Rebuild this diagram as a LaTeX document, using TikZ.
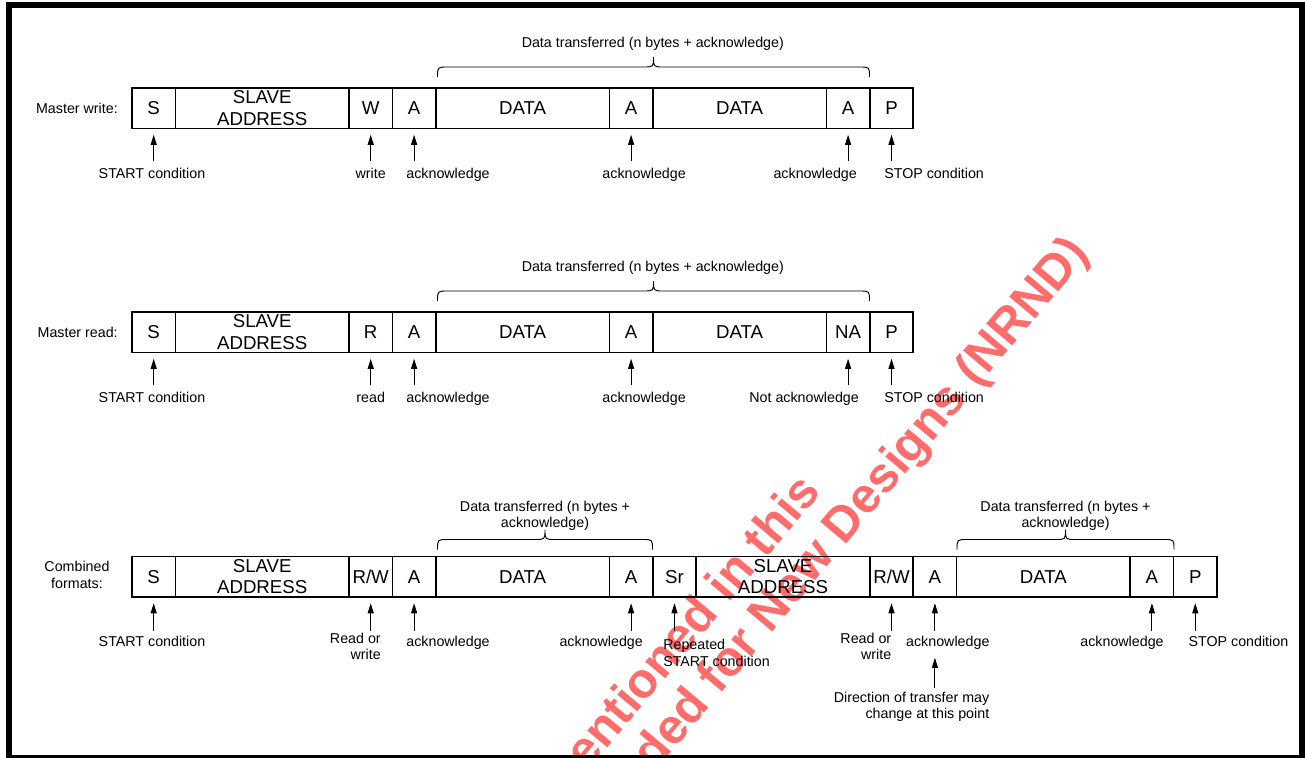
\documentclass[tikz,border=0pt]{standalone}
\usepackage{fontspec}
\setmainfont{Liberation Sans}
\usetikzlibrary{arrows.meta,calc}
\definecolor{wmred}{RGB}{255,108,108}
\newcommand{\ibrace}[3]{%
  \draw[brc] (#1,#3) .. controls (#1,{#3-10}) .. ({#1+10},{#3-10})
    -- ({(#1+#2)/2-10},{#3-10}) .. controls ({(#1+#2)/2},{#3-10}) .. ({(#1+#2)/2},{#3-20})
    .. controls ({(#1+#2)/2},{#3-10}) .. ({(#1+#2)/2+10},{#3-10})
    -- ({#2-10},{#3-10}) .. controls (#2,{#3-10}) .. (#2,#3);}
\begin{document}
\begin{tikzpicture}[x=0.75pt,y=-0.75pt,
  cell/.style={draw,line width=1.1pt,anchor=north west,outer sep=0pt,
    minimum width=32.55pt,minimum height=30.2pt,inner sep=0pt,
    font=\fontsize{14}{16}\selectfont,align=center},
  wide/.style={minimum width=130.2pt},
  lab/.style={inner sep=0pt,font=\fontsize{10.7}{12.3}\selectfont},
  arr/.style={-{Triangle[length=7.5pt,width=4.5pt]},line width=0.7pt},
  brc/.style={line width=0.7pt},
  wm/.style={text=wmred,font=\fontsize{37}{44}\selectfont\bfseries,inner sep=0pt,rotate=50}]
\useasboundingbox (0,0) rectangle (1305,757);
\fill[white] (0,0) rectangle (1305,757);
% watermark
\begin{scope}
  \clip (12,7) rectangle (1298,754);
  \node[wm,anchor=base east] (wm2) at (1090,254) {not recommended for New Designs (NRND)};
  \node[wm,anchor=base east] (wm1) at (822,492) {The products mentioned in this};
\end{scope}
% frame
\draw[line width=4.5pt] (9,4.5) rectangle (1301.5,757.5);

% ---------- Row 1: Master write ----------
\node[cell] (a1) at (132,88) {S};
\node[cell,wide] (a2) at (a1.north east) {SLAVE\\ADDRESS};
\node[cell] (a3) at (a2.north east) {W};
\node[cell] (a4) at (a3.north east) {A};
\node[cell,wide] (a5) at (a4.north east) {DATA};
\node[cell] (a6) at (a5.north east) {A};
\node[cell,wide] (a7) at (a6.north east) {DATA};
\node[cell] (a8) at (a7.north east) {A};
\node[cell] (a9) at (a8.north east) {P};
\node[lab,anchor=base east] (lw) at ($(a1.west)+(-14,5)$) {Master write:};
\node[lab,anchor=base] (ta) at ($(a5.north west)!0.5!(a9.north west)+(0,-40.5)$) {Data transferred (n bytes + acknowledge)};
\ibrace{437.5}{869.5}{77}
\foreach \c in {a1,a3,a4,a6,a8,a9}{\draw[arr] ($(\c.south)+(0,33)$) -- ($(\c.south)+(0,6.5)$);}
\node[lab,anchor=base] (la1) at ($(a1.south)+(-1.7,50)$) {START condition};
\node[lab,anchor=base] (la3) at ($(a3.south)+(0,50)$) {write};
\node[lab,anchor=base west] (la4) at ($(a4.south)+(-8,50)$) {acknowledge};
\node[lab,anchor=base] (la6) at ($(a6.south)+(13,50)$) {acknowledge};
\node[lab,anchor=base east] (la8) at ($(a8.south)+(9,50)$) {acknowledge};
\node[lab,anchor=base west] (la9) at ($(a9.south)+(-7.5,50)$) {STOP condition};

% ---------- Row 2: Master read ----------
\node[cell] (b1) at (132,312) {S};
\node[cell,wide] (b2) at (b1.north east) {SLAVE\\ADDRESS};
\node[cell] (b3) at (b2.north east) {R};
\node[cell] (b4) at (b3.north east) {A};
\node[cell,wide] (b5) at (b4.north east) {DATA};
\node[cell] (b6) at (b5.north east) {A};
\node[cell,wide] (b7) at (b6.north east) {DATA};
\node[cell] (b8) at (b7.north east) {NA};
\node[cell] (b9) at (b8.north east) {P};
\node[lab,anchor=base east] (lr) at ($(b1.west)+(-14,5)$) {Master read:};
\node[lab,anchor=base] (tb) at ($(b5.north west)!0.5!(b9.north west)+(0,-40.5)$) {Data transferred (n bytes + acknowledge)};
\ibrace{437.5}{869.5}{301}
\foreach \c in {b1,b3,b4,b6,b8,b9}{\draw[arr] ($(\c.south)+(0,33)$) -- ($(\c.south)+(0,6.5)$);}
\node[lab,anchor=base] (lb1) at ($(b1.south)+(-1.7,50)$) {START condition};
\node[lab,anchor=base] (lb3) at ($(b3.south)+(0,50)$) {read};
\node[lab,anchor=base west] (lb4) at ($(b4.south)+(-8,50)$) {acknowledge};
\node[lab,anchor=base] (lb6) at ($(b6.south)+(13,50)$) {acknowledge};
\node[lab,anchor=base east] (lb8) at ($(b8.south)+(11,50)$) {Not acknowledge};
\node[lab,anchor=base west] (lb9) at ($(b9.south)+(-7.5,50)$) {STOP condition};

% ---------- Row 3: Combined formats ----------
\node[cell] (c1) at (132,556.5) {S};
\node[cell,wide] (c2) at (c1.north east) {SLAVE\\ADDRESS};
\node[cell] (c3) at (c2.north east) {R/W};
\node[cell] (c4) at (c3.north east) {A};
\node[cell,wide] (c5) at (c4.north east) {DATA};
\node[cell] (c6) at (c5.north east) {A};
\node[cell] (c7) at (c6.north east) {Sr};
\node[cell,wide] (c8) at (c7.north east) {SLAVE\\ADDRESS};
\node[cell] (c9) at (c8.north east) {R/W};
\node[cell] (c10) at (c9.north east) {A};
\node[cell,wide] (c11) at (c10.north east) {DATA};
\node[cell] (c12) at (c11.north east) {A};
\node[cell] (c13) at (c12.north east) {P};
\node[lab,align=center] (lc) at (77,575) {Combined\\formats:};
\node[lab,align=center] (tc1) at (545,516) {Data transferred (n bytes +\\acknowledge)};
\node[lab,align=center] (tc2) at (1065.5,516) {Data transferred (n bytes +\\acknowledge)};
\ibrace{437.5}{652.5}{549.5}
\ibrace{957}{1174}{549.5}
\foreach \c in {c1,c3,c4,c6,c7,c9,c10,c12,c13}{\draw[arr] ($(\c.south)+(0,34)$) -- ($(\c.south)+(0,6.5)$);}
\node[lab,anchor=base] (lc1) at ($(c1.south)+(-1.7,50)$) {START condition};
\node[lab,align=right,anchor=east] (lc3) at ($(c3.south)+(10.3,49.5)$) {Read or\\write};
\node[lab,anchor=base west] (lc4) at ($(c4.south)+(-8,50)$) {acknowledge};
\node[lab,anchor=base east] (lc6) at ($(c6.south)+(12,50)$) {acknowledge};
\node[lab,align=left,anchor=west] (lc7) at ($(c7.south)+(-11.5,56)$) {Repeated\\START condition};
\node[lab,align=right,anchor=east] (lc9) at ($(c9.south)+(0,49.5)$) {Read or\\write};
\node[lab,anchor=base west] (lc10) at ($(c10.south)+(-29,50)$) {acknowledge};
\node[lab,anchor=base east] (lc12) at ($(c12.south)+(12,50)$) {acknowledge};
\node[lab,anchor=base west] (lc13) at ($(c13.south)+(-7,50)$) {STOP condition};
\node[lab,align=right,anchor=east] (ld) at ($(c10.south)+(54.6,110)$) {Direction of transfer may\\change at this point};
\draw[arr] ($(ld.north -| c10.south)+(0,-4)$) -- ($(c10.south)+(0,61)$);
\end{tikzpicture}
\end{document}
